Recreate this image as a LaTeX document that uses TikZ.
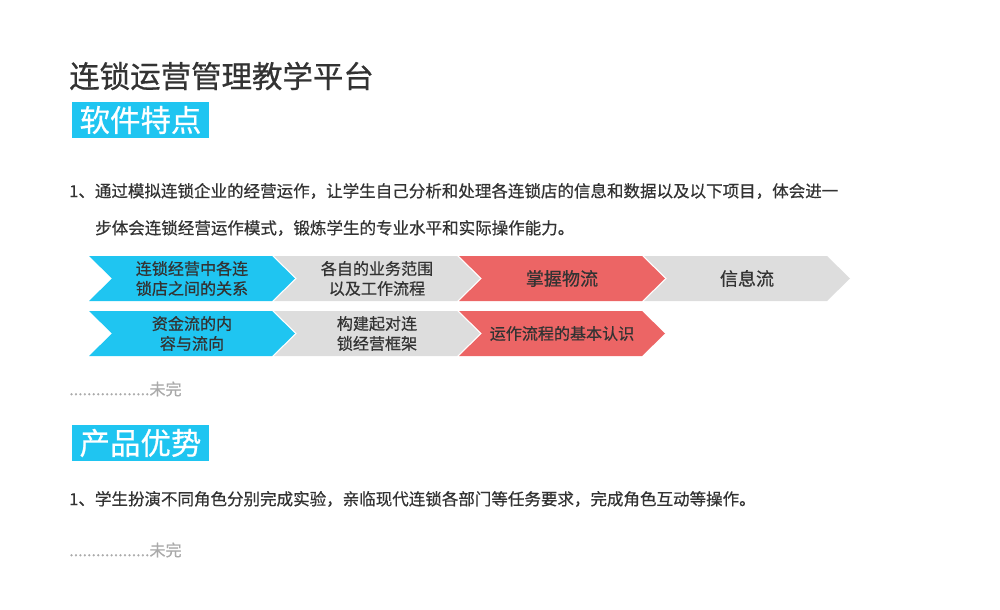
\documentclass[tikz,border=0pt]{standalone}
\usepackage{fontspec}
\setmainfont{Noto Sans CJK SC}[FakeBold=0.6]
\definecolor{skyblue}{RGB}{31,197,241}
\definecolor{coral}{RGB}{236,101,101}
\definecolor{lightgrey}{RGB}{221,221,221}
\definecolor{darktext}{RGB}{51,51,51}
\definecolor{greytext}{RGB}{170,170,170}
\tikzset{
    chevron/.style={fill=#1, draw=none},
    chevtext/.style={inner sep=0pt, align=center, text=darktext, font=\fontsize{13.7}{17}\selectfont},
    bigtext/.style={inner sep=0pt, align=center, text=darktext, font=\fontsize{15.4}{18}\selectfont},
    headbox/.style={fill=skyblue, text=white, inner sep=0pt, minimum width=117pt, minimum height=30.7pt, font=\fontsize{26}{30}\selectfont},
    bodytext/.style={inner sep=0pt, anchor=west, text=darktext, font=\fontsize{14.1}{17}\selectfont},
    moretext/.style={inner sep=0pt, anchor=west, text=greytext, font=\fontsize{13.7}{17}\selectfont}
}
\newcommand{\chev}[3]{\path[chevron=#3] (#1,#2) -- ++(183,0) -- ++(23,22.5) -- ++(-23,22.5) -- ++(-183,0) -- ++(23,-22.5) -- cycle;}
\begin{document}
\begin{tikzpicture}[x=0.03cm, y=-0.03cm]
    \useasboundingbox (0,0) rectangle (1000,609);

    \node[inner sep=0pt, anchor=west, text=darktext, font=\fontsize{26}{30}\selectfont] (title) at (69,76) {连锁运营管理教学平台};
    \node[headbox] (feature) at (140.5,120) {软件特点};

    \node[bodytext] (line1) at (69,191) {1、通过模拟连锁企业的经营运作，让学生自己分析和处理各连锁店的信息和数据以及以下项目，体会进一};
    \node[bodytext] (line2) at (95,228) {步体会连锁经营运作模式，锻炼学生的专业水平和实际操作能力。};

    \chev{89}{256}{skyblue}
    \chev{274}{256}{lightgrey}
    \chev{459}{256}{coral}
    \chev{644}{256}{lightgrey}
    \chev{89}{311}{skyblue}
    \chev{274}{311}{lightgrey}
    \chev{459}{311}{coral}

    \node[chevtext] (a1) at (192,278.5) {连锁经营中各连\\锁店之间的关系};
    \node[chevtext] (a2) at (377,278.5) {各自的业务范围\\以及工作流程};
    \node[bigtext] (a3) at (562,278.5) {掌握物流};
    \node[bigtext] (a4) at (747,278.5) {信息流};
    \node[chevtext] (b1) at (192,333.5) {资金流的内\\容与流向};
    \node[chevtext] (b2) at (377,333.5) {构建起对连\\锁经营框架};
    \node[chevtext] (b3) at (562,333.5) {运作流程的基本认识};

    \node[moretext] (more1) at (69,389) {..................未完};

    \node[headbox] (advantage) at (140.5,443) {产品优势};
    \node[bodytext] (line3) at (69,499) {1、学生扮演不同角色分别完成实验，亲临现代连锁各部门等任务要求，完成角色互动等操作。};

    \node[moretext] (more2) at (69,550) {..................未完};
\end{tikzpicture}
\end{document}
